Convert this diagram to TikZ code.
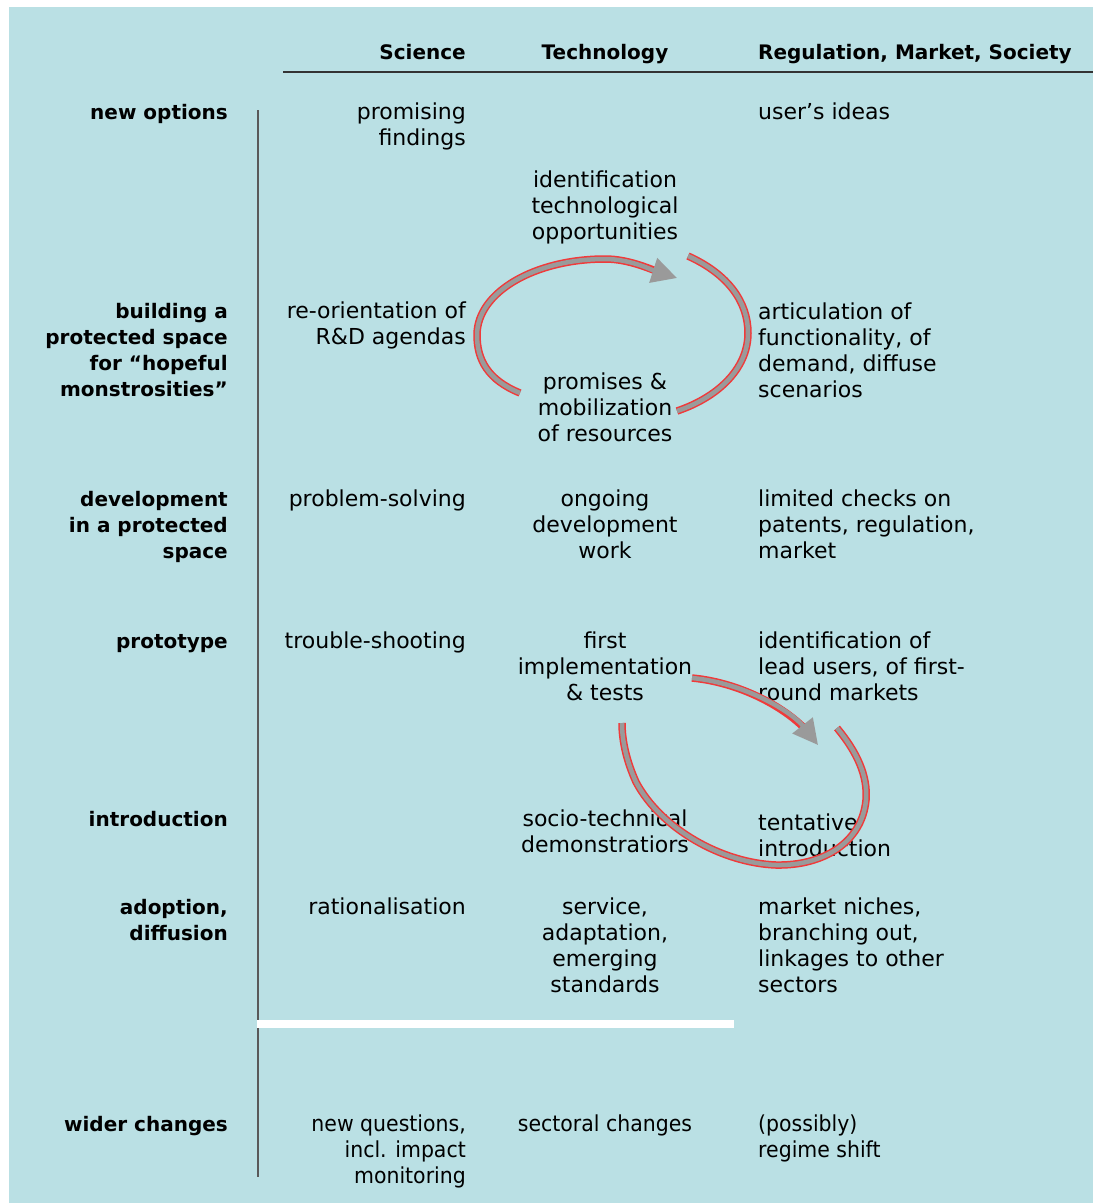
\documentclass[tikz,border=0pt]{standalone}
\usepackage{fontspec}
\setmainfont{DejaVu Sans}
\newfontfamily\narrowfont[FakeStretch=0.93]{DejaVu Sans}
\usetikzlibrary{arrows.meta}
\definecolor{panel}{HTML}{BAE0E4}
\definecolor{band}{HTML}{9A9A9A}
\definecolor{bandedge}{HTML}{F03A3A}

\begin{document}
\begin{tikzpicture}[x=1pt,y=-1pt,
    txt/.style={font=\fontsize{22}{26}\selectfont, inner sep=0pt},
    head/.style={font=\fontsize{20}{26}\selectfont\bfseries},
    stage/.style={txt, head, anchor=base east, align=right},
    sci/.style={txt, anchor=base east, align=right},
    tech/.style={txt, anchor=base, align=center},
    reg/.style={txt, anchor=base west, align=left},
    wide/.style={font=\narrowfont\fontsize{22}{26}\selectfont},
    loop/.style={line width=4.5pt, draw=band,
                 preaction={draw=bandedge, line width=7.5pt, -, shorten >=#1}},
    loop/.default=0pt,
    loophead/.style={loop=14pt, -{Triangle[length=25pt,width=25pt,fill=band]}}
  ]
  \useasboundingbox (0,0) rectangle (1093,1203);
  \fill[white] (0,0) rectangle (1093,1203);
  \fill[panel] (9,7) rectangle (1093,1203);

  % column heads (multi-line nodes sit on the baseline of their last line)
  \node[sci, head] (hsci) at (466,59) {Science};
  \node[tech, head] (htech) at (605,59) {Technology};
  \node[reg, head] (hreg) at (758,59) {Regulation, Market, Society};
  \draw[line width=1.5pt, black!80] (283,72) -- (1093,72);
  \draw[line width=2pt, black!65] (258,110) -- (258,1177);
  \fill[white] (257,1020) rectangle (734,1028);

  % stages
  \node[stage] (lopt) at (228,119) {new options};
  \node[sci] (sopt) at (466,145) {promising\\findings};
  \node[reg] (ropt) at (758,119) {user’s ideas};
  \node[tech] (topp) at (605,239) {identification\\technological\\opportunities};

  \node[stage] (lbld) at (228,396) {building a\\protected space\\for “hopeful\\monstrosities”};
  \node[sci] (sbld) at (466,344) {re-orientation of\\R\&D agendas};
  \node[reg] (rbld) at (758,397) {articulation of\\functionality, of\\demand, diffuse\\scenarios};
  \node[tech] (tbld) at (605,441) {promises \&\\mobilization\\of resources};

  \node[stage] (ldev) at (228,558) {development\\in a protected\\space};
  \node[sci] (sdev) at (466,506) {problem-solving};
  \node[tech] (tdev) at (605,558) {ongoing\\development\\work};
  \node[reg] (rdev) at (758,558) {limited checks on\\patents, regulation,\\market};

  \node[stage] (lpro) at (228,648) {prototype};
  \node[sci] (spro) at (466,648) {trouble-shooting};
  \node[tech] (tpro) at (605,700) {first\\implementation\\\& tests};
  \node[reg] (rpro) at (758,700) {identification of\\lead users, of first-\\round markets};

  \node[stage] (lint) at (228,826) {introduction};
  \node[tech] (tint) at (605,852) {socio-technical\\demonstratiors};
  \node[reg] (rint) at (758,856) {tentative\\introduction};

  \node[stage] (ladp) at (228,940) {adoption,\\diffusion};
  \node[sci] (sadp) at (466,914) {rationalisation};
  \node[tech] (tadp) at (605,992) {service,\\adaptation,\\emerging\\standards};
  \node[reg] (radp) at (758,992) {market niches,\\branching out,\\linkages to other\\sectors};

  \node[stage] (lwid) at (228,1131) {wider changes};
  \node[sci, wide] (swid) at (466,1183) {new questions,\\incl. impact\\monitoring};
  \node[tech, wide] (twid) at (605,1131) {sectoral changes};
  \node[reg, wide] (rwid) at (758,1157) {(possibly)\\regime shift};

  % cycles
  \coordinate (c1a) at (520,393);
  \coordinate (c1b) at (677,278);
  \coordinate (c1c) at (688,256);
  \coordinate (c1d) at (677,411);
  \draw[loophead] (c1a) .. controls (488,380) and (477,360) .. (477,335)
    .. controls (477,292) and (535,259) .. (605,259)
    .. controls (630,259) and (652,270) .. (c1b);
  \draw[loop] (c1c) .. controls (728,274) and (748,302) .. (748,333)
    .. controls (748,370) and (716,398) .. (c1d);

  \coordinate (c2a) at (692,678);
  \coordinate (c2b) at (818,745);
  \coordinate (c2c) at (837,728);
  \coordinate (c2d) at (622,723);
  \draw[loophead] (c2a) .. controls (745,683) and (792,712) .. (c2b);
  \draw[loop] (c2c) .. controls (857,752) and (868,776) .. (866,800)
    .. controls (862,842) and (824,866) .. (776,865)
    .. controls (722,863) and (661,829) .. (636,782)
    .. controls (627,762) and (622,742) .. (c2d);
\end{tikzpicture}
\end{document}
